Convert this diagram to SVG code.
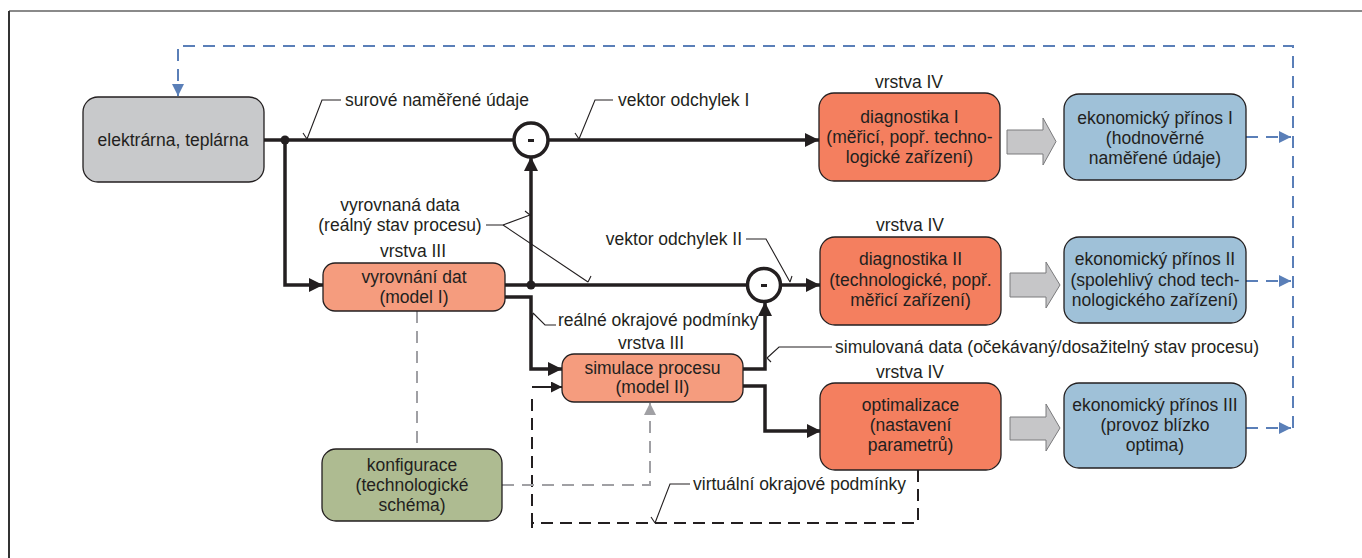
<svg xmlns="http://www.w3.org/2000/svg" width="1362" height="558" viewBox="0 0 1362 558">
<style>
text{font-family:"Liberation Sans",Arial,sans-serif;font-size:17.5px;fill:#231f20}
.c{text-anchor:middle}
.e{text-anchor:end}
.box{stroke:#231f20;stroke-width:1.3}
.gray{fill:#c8c9cb}
.diag{fill:#f47f5f}
.model{fill:#f59c7e}
.eko{fill:#9fc1d8}
.konf{fill:#aebb91}
.thick{fill:none;stroke:#231f20;stroke-width:3.5}
.lead{fill:none;stroke:#231f20;stroke-width:1.1}
.blue{fill:none;stroke:#5a7fb8;stroke-width:2;stroke-dasharray:12 8}
.gdash{fill:none;stroke:#a0a0a4;stroke-width:2;stroke-dasharray:12 8}
.kdash{fill:none;stroke:#231f20;stroke-width:2;stroke-dasharray:12 7}
.blk{fill:#c6c6c8;stroke:#7a7a7c;stroke-width:1}
</style>
<defs>
<marker id="ah" viewBox="0 0 10 10" refX="10" refY="5" markerWidth="6" markerHeight="4" markerUnits="strokeWidth" orient="auto"><path d="M0,0 L10,5 L0,10 z" fill="#231f20"/></marker>
<marker id="ahs" viewBox="0 0 10 10" refX="10" refY="5" markerWidth="8" markerHeight="5.5" markerUnits="strokeWidth" orient="auto"><path d="M0,0 L10,5 L0,10 z" fill="#231f20"/></marker>
<marker id="ab" viewBox="0 0 10 10" refX="10" refY="5" markerWidth="9" markerHeight="6" markerUnits="strokeWidth" orient="auto"><path d="M0,0 L10,5 L0,10 z" fill="#5a7fb8"/></marker>
<marker id="ag" viewBox="0 0 10 10" refX="10" refY="5" markerWidth="9" markerHeight="6" markerUnits="strokeWidth" orient="auto"><path d="M0,0 L10,5 L0,10 z" fill="#a0a0a4"/></marker>
</defs>
<rect width="1362" height="558" fill="#ffffff"/>
<line x1="9" y1="11" x2="1362" y2="11" stroke="#8a8a8a" stroke-width="2"/>
<line x1="9" y1="11" x2="9" y2="558" stroke="#333" stroke-width="2"/>

<g id="connectors">
<path class="thick" d="M264,140 H819" marker-end="url(#ah)"/>
<path class="thick" d="M285,140 V285 H323" marker-end="url(#ah)"/>
<path class="thick" d="M531,285 V157" marker-end="url(#ah)"/>
<path class="thick" d="M505,285 H748"/>
<path class="thick" d="M781,285 H820" marker-end="url(#ah)"/>
<path class="thick" d="M505,297 H531 V369 H562" marker-end="url(#ah)"/>
<path class="thick" d="M743,369 H765 V302" marker-end="url(#ah)"/>
<path class="thick" d="M743,386 H765 V431 H821" marker-end="url(#ah)"/>
<circle cx="285" cy="140" r="4.5" fill="#231f20"/>
<circle cx="531" cy="285" r="4.5" fill="#231f20"/>
<path class="kdash" d="M918,470 V523 H532 V395"/>
<line x1="532" y1="518" x2="532" y2="528" stroke="#231f20" stroke-width="2"/>
<path d="M532,387 H562" fill="none" stroke="#231f20" stroke-width="2" marker-end="url(#ahs)"/>
<path class="gdash" d="M417,311 V449"/>
<path class="gdash" d="M502,485 H650 V403" marker-end="url(#ag)"/>
<path class="blue" d="M1293,428 V46 H178 V96" marker-end="url(#ab)"/>
<path class="blue" d="M1246,137 H1291" marker-end="url(#ab)"/>
<path class="blue" d="M1246,281 H1291" marker-end="url(#ab)"/>
<path class="blue" d="M1246,428 H1291" marker-end="url(#ab)"/>
<polygon class="blk" points="1007,130 1043,130 1043,118 1056,141.5 1043,165 1043,154 1007,154"/>
<polygon class="blk" points="1010,273 1046,273 1046,262 1060,285 1046,308 1046,297 1010,297"/>
<polygon class="blk" points="1010,417 1046,417 1046,404 1060,428 1046,451 1046,440 1010,440"/>
<path class="lead" d="M341,100 H322 L307,139 M307,139 L303,133"/>
<path class="lead" d="M613,100 H595 L579,139 M579,139 L575,133"/>
<path class="lead" d="M486,225 H503 L530,215 M530,215 L525,211"/>
<path class="lead" d="M503,225 L588,282 M588,282 L591,276"/>
<path class="lead" d="M746,239 H766 L790,282 M790,282 L792,276"/>
<path class="lead" d="M556,325 H545 L533,313 M533,313 L532,320"/>
<path class="lead" d="M832,347 H779 L767,358 M767,358 L771,362"/>
<path class="lead" d="M690,484 H670 L655,523 M655,523 L651,517"/>
</g>

<g id="minus1"><circle cx="531" cy="140" r="17" fill="#fff" stroke="#231f20" stroke-width="3.5"/><rect x="528" y="139" width="6" height="3" fill="#231f20"/></g>
<g id="minus2"><circle cx="764" cy="285" r="16.5" fill="#fff" stroke="#231f20" stroke-width="3.5"/><rect x="761" y="284" width="6" height="3" fill="#231f20"/></g>

<g id="elektrarna"><rect class="box gray" x="83" y="97" width="181" height="85" rx="15"/><text class="c" x="173" y="146">elektrárna, teplárna</text></g>

<g id="diag1"><text class="c" x="909" y="88">vrstva IV</text><rect class="box diag" x="819" y="93" width="181" height="88" rx="15"/>
<text class="c" x="909.5" y="123">diagnostika I</text><text class="c" x="909.5" y="143">(měřicí, popř. techno-</text><text class="c" x="909.5" y="163">logické zařízení)</text></g>

<g id="eko1"><rect class="box eko" x="1064" y="94" width="182" height="86" rx="15"/>
<text class="c" x="1155" y="124">ekonomický přínos I</text><text class="c" x="1155" y="144">(hodnověrné</text><text class="c" x="1155" y="164">naměřené údaje)</text></g>

<g id="diag2"><text class="c" x="910" y="231">vrstva IV</text><rect class="box diag" x="820" y="237" width="181" height="88" rx="15"/>
<text class="c" x="910.5" y="265">diagnostika II</text><text class="c" x="910.5" y="286">(technologické, popř.</text><text class="c" x="910.5" y="306">měřicí zařízení)</text></g>

<g id="eko2"><rect class="box eko" x="1064" y="237" width="182" height="86" rx="15"/>
<text class="c" x="1155" y="265">ekonomický přínos II</text><text class="c" x="1155" y="286">(spolehlivý chod tech-</text><text class="c" x="1155" y="306">nologického zařízení)</text></g>

<g id="optim"><text class="c" x="910" y="378">vrstva IV</text><rect class="box diag" x="820" y="383" width="181" height="87" rx="15"/>
<text class="c" x="910.5" y="411">optimalizace</text><text class="c" x="910.5" y="431">(nastavení</text><text class="c" x="910.5" y="451">parametrů)</text></g>

<g id="eko3"><rect class="box eko" x="1064" y="383" width="182" height="85" rx="15"/>
<text class="c" x="1155" y="411">ekonomický přínos III</text><text class="c" x="1155" y="431">(provoz blízko</text><text class="c" x="1155" y="451">optima)</text></g>

<g id="vyrovnani"><text class="c" x="413" y="257">vrstva III</text><rect class="box model" x="323" y="263" width="182" height="48" rx="12"/>
<text class="c" x="414" y="283">vyrovnání dat</text><text class="c" x="414" y="303">(model I)</text></g>

<g id="simulace"><text class="c" x="651" y="349">vrstva III</text><rect class="box model" x="562" y="354" width="181" height="48" rx="12"/>
<text class="c" x="652.5" y="374">simulace procesu</text><text class="c" x="652.5" y="393">(model II)</text></g>

<g id="konfigurace"><rect class="box konf" x="322" y="449" width="180" height="72" rx="14"/>
<text class="c" x="412" y="471">konfigurace</text><text class="c" x="412" y="491">(technologické</text><text class="c" x="412" y="511">schéma)</text></g>

<g id="labels">
<text x="345" y="106">surové naměřené údaje</text>
<text x="618" y="106">vektor odchylek I</text>
<text class="c" x="400" y="211">vyrovnaná data</text>
<text class="c" x="400" y="231">(reálný stav procesu)</text>
<text class="e" x="742" y="245">vektor odchylek II</text>
<text x="558" y="326">reálné okrajové podmínky</text>
<text x="835" y="353">simulovaná data (očekávaný/dosažitelný stav procesu)</text>
<text x="693" y="490">virtuální okrajové podmínky</text>
</g>
</svg>
